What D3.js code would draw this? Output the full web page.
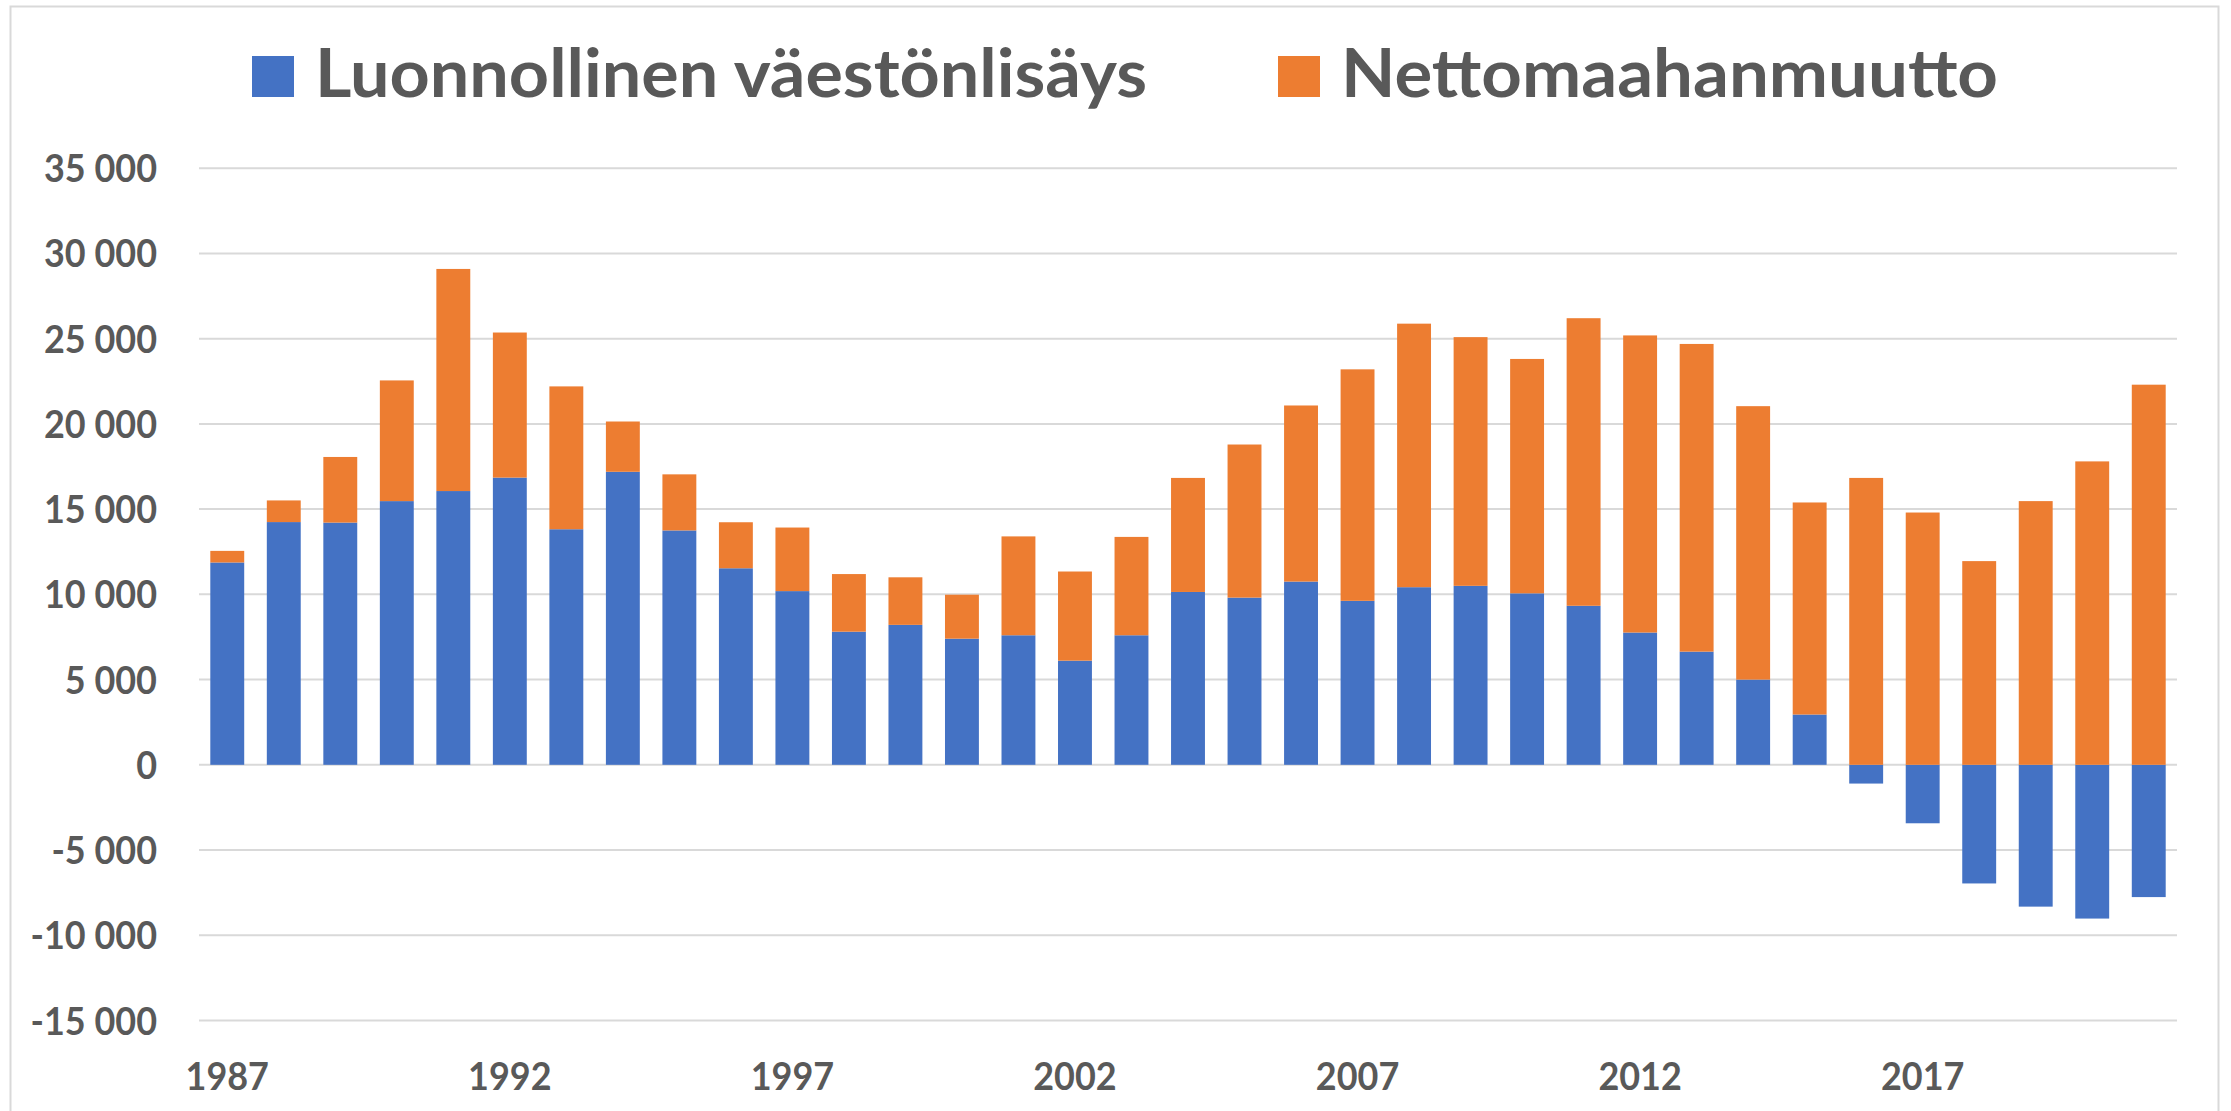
<!DOCTYPE html>
<html>
<head>
<meta charset="utf-8">
<script src="https://cdn.jsdelivr.net/npm/d3@7"></script>
<style>
  body { margin: 0; background: #fff; }
  text { font-family: Lato, "Open Sans", sans-serif; font-weight: 700; fill: #595959; }
</style>
</head>
<body>
<script>
// vuodet
var years = [1987, 1988, 1989, 1990, 1991, 1992, 1993, 1994, 1995, 1996,
             1997, 1998, 1999, 2000, 2001, 2002, 2003, 2004, 2005, 2006,
             2007, 2008, 2009, 2010, 2011, 2012, 2013, 2014, 2015, 2016,
             2017, 2018, 2019, 2020, 2021];

// Luonnollinen väestönlisäys
var natural = [11870, 14240, 14210, 15470, 16060, 16850, 13820, 17190, 13750, 11530,
               10190, 7810, 8210, 7400, 7600, 6110, 7600, 10140, 9810, 10750,
               9620, 10420, 10500, 10060, 9330, 7760, 6640, 5000, 2950, -1100,
               -3430, -6960, -8320, -9020, -7760];

// Nettomaahanmuutto
var migration = [680, 1270, 3850, 7080, 13030, 8510, 8380, 2950, 3290, 2700,
                 3730, 3380, 2790, 2580, 5800, 5230, 5770, 6690, 8980, 10330,
                 13580, 15460, 14590, 13750, 16870, 17430, 18050, 16040, 12440, 16830,
                 14800, 11950, 15470, 17800, 22300];

var seriesNames = ["Luonnollinen väestönlisäys", "Nettomaahanmuutto"];
var colors = ["#4472C4", "#ED7D31"];
var yTicks = [-15000, -10000, -5000, 0, 5000, 10000, 15000, 20000, 25000, 30000, 35000];
var xLabels = [1987, 1992, 1997, 2002, 2007, 2012, 2017];

var width = 2231, height = 1111;

var svg = d3.select("body").append("svg")
    .attr("width", width)
    .attr("height", height);

// kehys
svg.append("rect")
    .attr("x", 10.5).attr("y", 6.5)
    .attr("width", 2208).attr("height", 1110)
    .attr("fill", "none")
    .attr("stroke", "#d9d9d9")
    .attr("stroke-width", 2);

var x = d3.scaleBand()
    .domain(years)
    .range([199, 2177])
    .paddingInner(0.4)
    .paddingOuter(0.2);

var y = d3.scaleLinear()
    .domain([-15000, 35000])
    .range([1020.5, 168.2]);

var fi = d3.formatLocale({ thousands: " ", grouping: [3], decimal: ",", currency: ["", " €"], minus: "-" });
var fmt = fi.format(",d");

function squeeze(sel, k) {
  sel.each(function() {
    var len = this.getComputedTextLength();
    d3.select(this).attr("textLength", len * k).attr("lengthAdjust", "spacingAndGlyphs");
  });
}

// ruudukko
svg.append("g")
  .selectAll("line")
  .data(yTicks)
  .enter().append("line")
    .attr("x1", 199).attr("x2", 2177)
    .attr("y1", function(d) { return y(d); })
    .attr("y2", function(d) { return y(d); })
    .attr("stroke", "#d9d9d9")
    .attr("stroke-width", 2);

// pinotut palkit
var table = years.map(function(yr, i) {
  return { year: yr, nat: natural[i], mig: migration[i] };
});
var stack = d3.stack().keys(["nat", "mig"]).offset(d3.stackOffsetDiverging);
var layers = stack(table);

svg.append("g")
  .selectAll("g")
  .data(layers)
  .enter().append("g")
    .attr("fill", function(d, i) { return colors[i]; })
  .selectAll("rect")
  .data(function(d) { return d; })
  .enter().append("rect")
    .attr("x", function(d) { return x(d.data.year); })
    .attr("width", x.bandwidth())
    .attr("y", function(d) { return y(Math.max(d[0], d[1])); })
    .attr("height", function(d) { return Math.abs(y(d[0]) - y(d[1])); });

// y-akseli
var yLab = svg.append("g")
  .selectAll("text")
  .data(yTicks)
  .enter().append("text")
    .attr("x", 157)
    .attr("y", function(d) { return y(d) + 14; })
    .attr("text-anchor", "end")
    .attr("font-size", 39)
    .text(function(d) { return fmt(d); });

// x-akseli
var xLab = svg.append("g")
  .selectAll("text")
  .data(xLabels)
  .enter().append("text")
    .attr("x", function(d) { return x(d) + x.bandwidth() / 2; })
    .attr("y", 1090)
    .attr("text-anchor", "middle")
    .attr("font-size", 39)
    .text(function(d) { return d; });

var ref = yLab.filter(function(d) { return d === 35000; }).node().getComputedTextLength();
var k = 113 / ref;
squeeze(yLab, k);
squeeze(xLab, k);

// selite
var legendX = [252, 1278];
var legendW = [832, 657];
var legend = svg.append("g")
  .selectAll("g")
  .data(seriesNames)
  .enter().append("g");

legend.append("rect")
    .attr("x", function(d, i) { return legendX[i]; })
    .attr("y", 56)
    .attr("width", 42)
    .attr("height", 41)
    .attr("fill", function(d, i) { return colors[i]; });

legend.append("text")
    .attr("x", function(d, i) { return legendX[i] + 63; })
    .attr("y", 97)
    .attr("font-size", 66)
    .attr("textLength", function(d, i) { return legendW[i]; })
    .attr("lengthAdjust", "spacingAndGlyphs")
    .text(function(d) { return d; });
</script>
</body>
</html>
